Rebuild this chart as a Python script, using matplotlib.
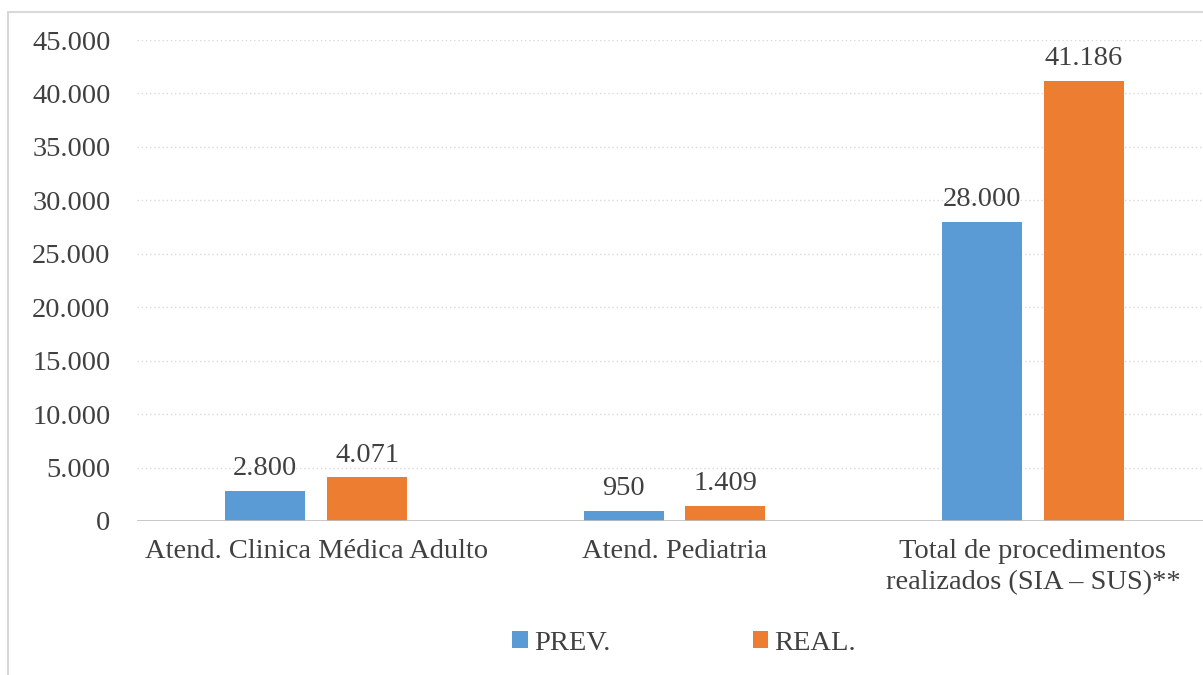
import matplotlib
matplotlib.use("Agg")
import matplotlib.pyplot as plt
from matplotlib.patches import Rectangle
import numpy as np

categories = ["Atend. Clinica Médica Adulto", "Atend. Pediatria",
              "Total de procedimentos\nrealizados (SIA – SUS)**"]
prev = [2800, 950, 28000]
real = [4071, 1409, 41186]
series_names = ["PREV.", "REAL."]
colors = ["#5B9BD5", "#ED7D31"]

plt.rcParams["font.family"] = ["Liberation Serif", "DejaVu Serif"]
text_color = "#404040"
fs = 20.5

fig = plt.figure(figsize=(12.03, 6.75), dpi=100)
ax = fig.add_axes([137 / 1203, 1 - 521 / 675, (1212 - 137) / 1203, (521 - 40) / 675])

# outer chart frame
fig.patches.append(Rectangle((8 / 1203, -0.01), 1.1, 1 - 12 / 675 + 0.01,
                             transform=fig.transFigure, fill=False,
                             edgecolor="#D9D9D9", linewidth=1.5))

x = np.arange(len(categories))
w = 0.223
off = 0.142
b1 = ax.bar(x - off, prev, w, color=colors[0], label=series_names[0])
b2 = ax.bar(x + off, real, w, color=colors[1], label=series_names[1])

for bars, vals in ((b1, prev), (b2, real)):
    for rect, v in zip(bars, vals):
        lab = f"{v:,}".replace(",", ".")
        ax.annotate(lab, (rect.get_x() + rect.get_width() / 2, v),
                    xytext=(0, 7), textcoords="offset points",
                    ha="center", va="bottom", fontsize=fs, color=text_color)

ax.set_xlim(-0.5, 2.5)
ax.set_ylim(0, 45000)
yt = np.arange(0, 45001, 5000)
ax.set_yticks(yt)
ax.set_yticklabels([f"{v:,}".replace(",", ".") for v in yt])
ax.set_xticks(x)
ax.set_xticklabels(categories, linespacing=1.3)

ax.tick_params(axis="both", length=0, labelsize=fs, colors=text_color)
ax.tick_params(axis="y", pad=19)
ax.tick_params(axis="x", pad=13)
for s in ax.spines.values():
    s.set_visible(False)
ax.axhline(0, color="#BFBFBF", linewidth=1.2, zorder=3)
ax.yaxis.grid(True, color="#D9D9D9", linestyle=(0, (1, 2)), linewidth=1)
ax.set_axisbelow(True)

leg = fig.legend(handles=[b1, b2], labels=series_names, loc="center",
                 bbox_to_anchor=(684 / 1203, 1 - 643 / 675), ncol=2,
                 frameon=False, fontsize=fs, handlelength=0.55, handleheight=0.55,
                 handletextpad=0.2, columnspacing=5.0)
for t in leg.get_texts():
    t.set_color(text_color)

fig.savefig("out.png", dpi=100)
